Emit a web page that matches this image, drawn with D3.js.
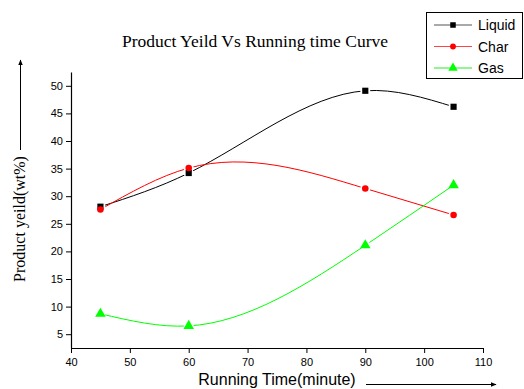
<!DOCTYPE html>
<html>
<head>
<meta charset="utf-8">
<script src="https://cdn.jsdelivr.net/npm/d3@7"></script>
<style>
  body { margin: 0; background: #fff; }
  svg { display: block; }
</style>
</head>
<body>
<div id="chart"></div>
<script>
// values
const times = [45, 60, 90, 105];
const liquid = [28.1, 34.2, 49.1, 46.2];
const char = [27.6, 35.1, 31.4, 26.6];
const gas = [8.7, 6.5, 21.1, 32.0];
const xTicks = [40, 50, 60, 70, 80, 90, 100, 110];
const yTicks = [5, 10, 15, 20, 25, 30, 35, 40, 45, 50];

const width = 524, height = 389;
const margin = { top: 72, right: 41, bottom: 41, left: 71 };

const series = [
  { name: 'Liquid', values: liquid, color: '#000000', legendLine: '#555555', symbol: d3.symbolSquare, size: 38 },
  { name: 'Char', values: char, color: '#ff0000', legendLine: '#ff4444', symbol: d3.symbolCircle, size: 34 },
  { name: 'Gas', values: gas, color: '#00ff00', legendLine: '#22ee22', symbol: d3.symbolTriangle, size: 48 }
];

const svg = d3.select('#chart')
  .append('svg')
  .attr('width', width)
  .attr('height', height);

const x = d3.scaleLinear()
  .domain([40, 110])
  .range([margin.left, width - margin.right]);

const y = d3.scaleLinear()
  .domain([2.5, 52.5])
  .range([height - margin.bottom, margin.top]);

// title
svg.append('text')
  .attr('x', 255)
  .attr('y', 47)
  .attr('text-anchor', 'middle')
  .style('font-family', '"Liberation Serif", "Times New Roman", serif')
  .style('font-size', '17.5px')
  .text('Product Yeild Vs Running time Curve');

// x axis with minor ticks
const xAxisG = svg.append('g')
  .attr('transform', `translate(0, ${y(2.5)})`);
xAxisG.call(d3.axisBottom(x).tickValues(d3.range(45, 110, 10)).tickSize(3).tickFormat(''));
xAxisG.call(d3.axisBottom(x).tickValues(xTicks).tickSize(5).tickSizeOuter(0));
xAxisG.selectAll('.domain').attr('stroke', '#000').attr('stroke-width', 1.2);
xAxisG.selectAll('text')
  .style('font-family', '"Liberation Sans", Arial, sans-serif')
  .style('font-size', '11px')
  .attr('dy', '0.95em');

const yAxisG = svg.append('g')
  .attr('transform', `translate(${x(40)}, 0)`);
yAxisG.call(d3.axisLeft(y).tickValues(d3.range(2.5, 53, 5)).tickSize(3).tickFormat(''));
yAxisG.call(d3.axisLeft(y).tickValues(yTicks).tickSize(5).tickSizeOuter(0));
yAxisG.selectAll('.domain').attr('stroke', '#000').attr('stroke-width', 1.2);
yAxisG.selectAll('text')
  .style('font-family', '"Liberation Sans", Arial, sans-serif')
  .style('font-size', '11px');

// axis labels with arrows
svg.append('defs').append('marker')
  .attr('id', 'arrow')
  .attr('viewBox', '0 0 10 10')
  .attr('refX', 9)
  .attr('refY', 5)
  .attr('markerWidth', 6)
  .attr('markerHeight', 6)
  .attr('orient', 'auto')
  .append('path')
  .attr('d', 'M0,1 L10,5 L0,9 z')
  .attr('fill', '#000');

svg.append('text')
  .attr('transform', 'translate(24.5, 219) rotate(-90)')
  .attr('text-anchor', 'middle')
  .style('font-family', '"Liberation Serif", "Times New Roman", serif')
  .style('font-size', '16px')
  .text('Product yeild(wt%)');

svg.append('line')
  .attr('x1', 20.5).attr('y1', 150)
  .attr('x2', 20.5).attr('y2', 60)
  .attr('stroke', '#000')
  .attr('marker-end', 'url(#arrow)');

svg.append('text')
  .attr('x', 277)
  .attr('y', 385)
  .attr('text-anchor', 'middle')
  .style('font-family', '"Liberation Sans", Arial, sans-serif')
  .style('font-size', '16px')
  .text('Running Time(minute)');

svg.append('line')
  .attr('x1', 366).attr('y1', 384.5)
  .attr('x2', 496).attr('y2', 384.5)
  .attr('stroke', '#000')
  .attr('marker-end', 'url(#arrow)');

// natural cubic spline in x (like Origin's spline), drawn as bezier segments
function splinePath(pts) {
  const n = pts.length;
  const h = [], m = new Array(n).fill(0);
  for (let i = 0; i < n - 1; i++) h.push(pts[i + 1][0] - pts[i][0]);
  // tridiagonal solve for second derivatives, natural ends
  const a = [], b = [], c = [], r = [];
  for (let i = 1; i < n - 1; i++) {
    a.push(h[i - 1]);
    b.push(2 * (h[i - 1] + h[i]));
    c.push(h[i]);
    r.push(6 * ((pts[i + 1][1] - pts[i][1]) / h[i] - (pts[i][1] - pts[i - 1][1]) / h[i - 1]));
  }
  const k = b.length;
  for (let i = 1; i < k; i++) {
    const w = a[i] / b[i - 1];
    b[i] -= w * c[i - 1];
    r[i] -= w * r[i - 1];
  }
  for (let i = k - 1; i >= 0; i--) {
    m[i + 1] = (r[i] - (i < k - 1 ? c[i] * m[i + 2] : 0)) / b[i];
  }
  // slopes at each knot
  const s = [];
  for (let i = 0; i < n - 1; i++) {
    s.push((pts[i + 1][1] - pts[i][1]) / h[i] - h[i] * (2 * m[i] + m[i + 1]) / 6);
  }
  s.push((pts[n - 1][1] - pts[n - 2][1]) / h[n - 2] + h[n - 2] * (m[n - 2] + 2 * m[n - 1]) / 6);

  const p = d3.path();
  p.moveTo(pts[0][0], pts[0][1]);
  for (let i = 0; i < n - 1; i++) {
    const d = h[i] / 3;
    p.bezierCurveTo(
      pts[i][0] + d, pts[i][1] + s[i] * d,
      pts[i + 1][0] - d, pts[i + 1][1] - s[i + 1] * d,
      pts[i + 1][0], pts[i + 1][1]
    );
  }
  return p.toString();
}

const lineLayer = svg.append('g');
const gapLayer = svg.append('g');
const markLayer = svg.append('g');

series.forEach((s) => {
  const pts = times.map((t, i) => [t, s.values[i]]);
  const px = pts.map((d) => [x(d[0]), y(d[1])]);

  lineLayer.append('path')
    .attr('d', splinePath(px))
    .attr('fill', 'none')
    .attr('stroke', s.color)
    .attr('stroke-width', 1);

  // Origin-style gaps around markers
  gapLayer.selectAll(null)
    .data(pts)
    .join('circle')
    .attr('cx', (d) => x(d[0]))
    .attr('cy', (d) => y(d[1]))
    .attr('r', 5)
    .attr('fill', '#fff');

  markLayer.selectAll(null)
    .data(pts)
    .join('path')
    .attr('d', d3.symbol().type(s.symbol).size(s.size))
    .attr('transform', (d) => `translate(${x(d[0])}, ${y(d[1])})`)
    .attr('fill', s.color);
});

// legend
const legend = svg.append('g');
legend.append('rect')
  .attr('x', 426.5).attr('y', 12.5)
  .attr('width', 96).attr('height', 66)
  .attr('fill', '#fff')
  .attr('stroke', '#000');

series.forEach((s, i) => {
  const cy = 25 + i * 21.5;
  legend.append('line')
    .attr('x1', 434).attr('x2', 472)
    .attr('y1', cy).attr('y2', cy)
    .attr('stroke', s.legendLine)
    .attr('stroke-width', 1.2);
  legend.append('path')
    .attr('d', d3.symbol().type(s.symbol).size(s.size * 0.8))
    .attr('transform', `translate(453, ${cy})`)
    .attr('fill', s.color);
  legend.append('text')
    .attr('x', 478)
    .attr('y', cy + 5)
    .style('font-family', '"Liberation Sans", Arial, sans-serif')
    .style('font-size', '14px')
    .text(s.name);
});
</script>
</body>
</html>
